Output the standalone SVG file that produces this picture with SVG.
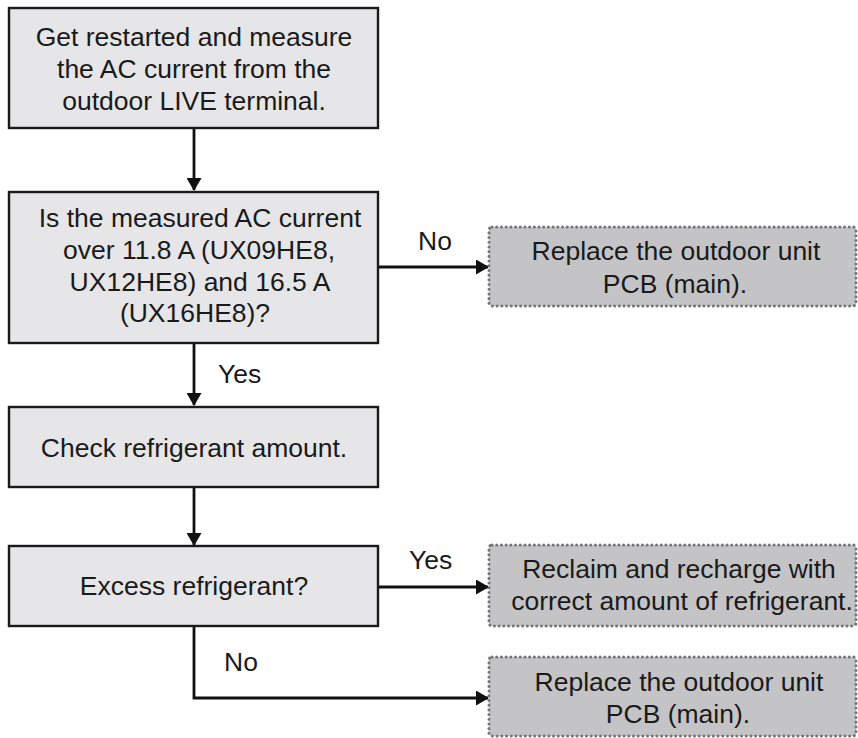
<svg xmlns="http://www.w3.org/2000/svg" width="858" height="738" viewBox="0 0 858 738">
<style>
.box{fill:#e6e6e8;stroke:#1a1a1a;stroke-width:2.4}
.dbox{fill:#c4c4c6;stroke:#767676;stroke-width:3;stroke-dasharray:0.1 4.6;stroke-linecap:round}
.t{font-family:"Liberation Sans",Arial,sans-serif;font-size:26.5px;fill:#1a1a1a;text-anchor:middle}
.lbl{font-family:"Liberation Sans",Arial,sans-serif;font-size:26.5px;fill:#1a1a1a}
.c{fill:none;stroke:#111;stroke-width:2.8}
</style>
<defs>
<marker id="ah" markerWidth="13" markerHeight="15" refX="12" refY="7.5" orient="auto" markerUnits="userSpaceOnUse" viewBox="0 0 13 15">
<path d="M0,0 L13,7.5 L0,15 z" fill="#111"/>
</marker>
</defs>
<g id="connectors">
<line class="c" x1="194" y1="128" x2="194" y2="190" marker-end="url(#ah)"/>
<line class="c" x1="378" y1="267" x2="488" y2="267" marker-end="url(#ah)"/>
<line class="c" x1="194" y1="343" x2="194" y2="405" marker-end="url(#ah)"/>
<line class="c" x1="194" y1="487" x2="194" y2="545" marker-end="url(#ah)"/>
<line class="c" x1="378" y1="587" x2="488" y2="587" marker-end="url(#ah)"/>
<polyline class="c" points="194,626 194,698 488,698" marker-end="url(#ah)"/>
<text class="lbl" x="418" y="250">No</text>
<text class="lbl" x="218" y="383">Yes</text>
<text class="lbl" x="409" y="569">Yes</text>
<text class="lbl" x="224" y="671">No</text>
</g>
<g id="n1">
<rect class="box" x="9" y="8" width="369" height="120"/>
<text class="t" x="194" y="46">Get restarted and measure</text>
<text class="t" x="194" y="78">the AC current from the</text>
<text class="t" x="194" y="110">outdoor LIVE terminal.</text>
</g>
<g id="n2">
<rect class="box" x="9" y="192" width="369" height="151"/>
<text class="t" x="200" y="227">Is the measured AC current</text>
<text class="t" x="199" y="259">over 11.8 A (UX09HE8,</text>
<text class="t" x="200" y="291">UX12HE8) and 16.5 A</text>
<text class="t" x="195" y="322">(UX16HE8)?</text>
</g>
<g id="n3">
<rect class="dbox" x="489" y="227" width="367" height="79" rx="3"/>
<text class="t" x="676" y="260">Replace the outdoor unit</text>
<text class="t" x="675" y="293">PCB (main).</text>
</g>
<g id="n4">
<rect class="box" x="9" y="407" width="369" height="80"/>
<text class="t" x="194" y="457">Check refrigerant amount.</text>
</g>
<g id="n5">
<rect class="box" x="9" y="546" width="369" height="80"/>
<text class="t" x="194" y="595">Excess refrigerant?</text>
</g>
<g id="n6">
<rect class="dbox" x="489" y="545" width="367" height="81" rx="3"/>
<text class="t" x="679" y="578">Reclaim and recharge with</text>
<text class="t" x="682" y="610">correct amount of refrigerant.</text>
</g>
<g id="n7">
<rect class="dbox" x="489" y="657" width="367" height="79" rx="3"/>
<text class="t" x="679" y="691">Replace the outdoor unit</text>
<text class="t" x="678" y="723">PCB (main).</text>
</g>
</svg>
